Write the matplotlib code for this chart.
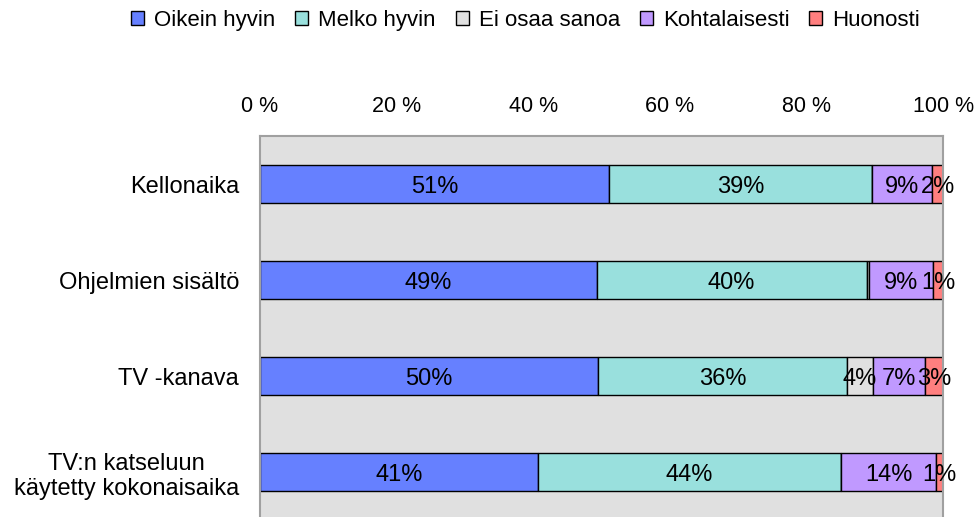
import matplotlib.pyplot as plt
import numpy as np

plt.rcParams['font.family'] = ['Liberation Sans', 'DejaVu Sans']

# kategoriat ja vastausosuudet (%)
kategoriat = ["Kellonaika", "Ohjelmien sisältö", "TV -kanava",
              "TV:n katseluun\nkäytetty kokonaisaika"]
sarjat = ["Oikein hyvin", "Melko hyvin", "Ei osaa sanoa", "Kohtalaisesti", "Huonosti"]
oikein_hyvin = [51.1, 49.3, 49.5, 40.7]
melko_hyvin = [38.5, 39.5, 36.5, 44.4]
ei_osaa = [0.0, 0.3, 3.7, 0.0]
kohtalaisesti = [8.8, 9.4, 7.6, 13.9]
huonosti = [1.6, 1.5, 2.8, 1.0]
# näytettävät tekstit
tekstit = [
    ["51%", "49%", "50%", "41%"],
    ["39%", "40%", "36%", "44%"],
    ["", "", "4%", ""],
    ["9%", "9%", "7%", "14%"],
    ["2%", "1%", "3%", "1%"],
]
varit = ["#6680FF", "#99E0DD", "#E0E0E0", "#C099FF", "#FF7F7F"]

arvot = [oikein_hyvin, melko_hyvin, ei_osaa, kohtalaisesti, huonosti]

fig = plt.figure(figsize=(9.79, 5.17), dpi=100)
ax = fig.add_axes([0.2656, -0.0058, 0.6977, 0.7427])
ax.set_facecolor("#E0E0E0")

y = np.arange(len(kategoriat))
vasen = np.zeros(len(kategoriat))
for nimi, a, vari, txt in zip(sarjat, arvot, varit, tekstit):
    a = np.array(a)
    ax.barh(y, a, left=vasen, height=0.4, color=vari, edgecolor="black",
            linewidth=1, label=nimi)
    for i in range(len(y)):
        if txt[i]:
            ax.text(vasen[i] + a[i] / 2, y[i], txt[i], ha="center",
                    va="center_baseline", fontsize=17)
    vasen += a

ax.set_xlim(0, 100)
ax.set_ylim(3.5, -0.5)
ax.set_yticks(y)
ax.set_yticklabels(kategoriat, fontsize=17, multialignment="center")
ax.set_xticks(np.arange(0, 101, 20))
ax.set_xticklabels([f"{v} %" for v in range(0, 101, 20)], fontsize=15.5)
ax.xaxis.tick_top()
ax.tick_params(axis="x", length=0, pad=14)
ax.tick_params(axis="y", length=0, pad=15)
for s in ["left", "top", "right"]:
    ax.spines[s].set_color("#A0A0A0")
    ax.spines[s].set_linewidth(1.5)
ax.spines["bottom"].set_visible(False)

fig.legend(loc="upper center", bbox_to_anchor=(0.537, 1.02), ncol=5, frameon=False,
           fontsize=16, handlelength=0.58, handleheight=0.58, handletextpad=0.45,
           columnspacing=0.9)

plt.savefig("out.png", dpi=100)
